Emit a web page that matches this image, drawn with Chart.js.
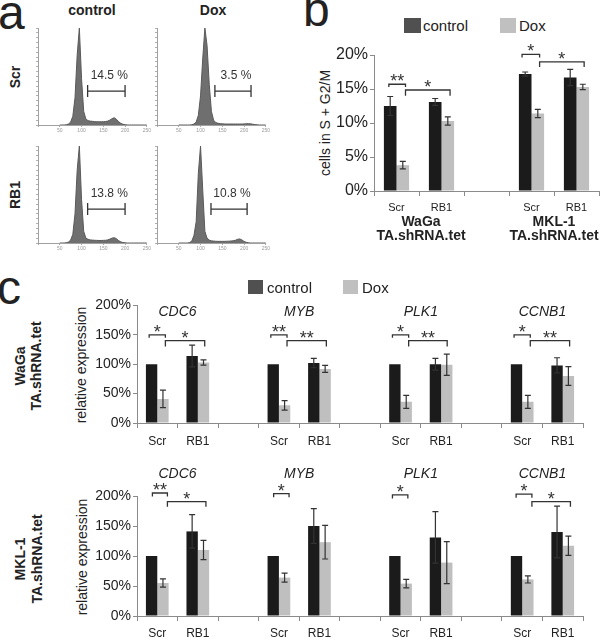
<!DOCTYPE html>
<html>
<head>
<meta charset="utf-8">
<script src="https://cdn.jsdelivr.net/npm/chart.js@4.4.1/dist/chart.umd.min.js"></script>
<style>
  body { margin: 0; background: #fff; }
  #fig { position: relative; width: 600px; height: 640px; overflow: hidden; font-family: "Liberation Sans", Arial, sans-serif; color: #222; }
  #fig canvas { position: absolute; }
  .t { position: absolute; white-space: nowrap; transform: translate(-50%, -50%); }
  .l { position: absolute; white-space: nowrap; transform: translate(0, -50%); font-size: 15px; }
  .rot { transform: translate(-50%, -50%) rotate(-90deg); }
  .b { font-weight: bold; font-size: 14px; }
  .letter { position: absolute; font-size: 48px; line-height: 48px; }
  .sw { position: absolute; }
</style>
</head>
<body>
<div id="fig">
  <div class="letter" style="left:-2px;top:-11px">a</div>
  <div class="letter" style="left:303px;top:-14px">b</div>
  <div class="letter" style="left:-3px;top:264px">c</div>

  <!-- panel a headers -->
  <div class="t b" style="left:92px;top:10px">control</div>
  <div class="t b" style="left:213px;top:10px">Dox</div>
  <div class="t b rot" style="left:15px;top:77px">Scr</div>
  <div class="t b rot" style="left:15px;top:195px">RB1</div>

  <canvas id="h1" width="122" height="112" style="left:30px;top:24px"></canvas>
  <canvas id="h2" width="122" height="112" style="left:149px;top:24px"></canvas>
  <canvas id="h3" width="122" height="112" style="left:30px;top:142px"></canvas>
  <canvas id="h4" width="122" height="112" style="left:149px;top:142px"></canvas>

  <!-- panel b -->
  <div class="sw" style="left:404px;top:18px;width:17px;height:15px;background:#505050"></div>
  <div class="l" style="left:423px;top:25px">control</div>
  <div class="sw" style="left:500px;top:18px;width:16px;height:15px;background:#c0c0c0"></div>
  <div class="l" style="left:519px;top:25px">Dox</div>
  <div class="t rot" style="left:325px;top:123px;font-size:14px">cells in S + G2/M</div>
  <canvas id="cb" width="300" height="200" style="left:300px;top:40px"></canvas>
  <div class="t b" style="left:421px;top:221px">WaGa</div>
  <div class="t b" style="left:421px;top:235px">TA.shRNA.tet</div>
  <div class="t b" style="left:554px;top:221px">MKL-1</div>
  <div class="t b" style="left:554px;top:235px">TA.shRNA.tet</div>

  <!-- panel c -->
  <div class="sw" style="left:248px;top:280px;width:15px;height:14px;background:#505050"></div>
  <div class="l" style="left:267px;top:287px">control</div>
  <div class="sw" style="left:343px;top:280px;width:15px;height:14px;background:#c0c0c0"></div>
  <div class="l" style="left:362px;top:287px">Dox</div>

  <div class="t b rot" style="left:20px;top:366px">WaGa</div>
  <div class="t b rot" style="left:35.5px;top:366px">TA.shRNA.tet</div>
  <div class="t rot" style="left:81px;top:365px;font-size:14px">relative expression</div>
  <canvas id="c1" width="515" height="160" style="left:85px;top:295px"></canvas>

  <div class="t b rot" style="left:20px;top:559px">MKL-1</div>
  <div class="t b rot" style="left:36.5px;top:559px">TA.shRNA.tet</div>
  <div class="t rot" style="left:81.5px;top:557px;font-size:14px">relative expression</div>
  <canvas id="c2" width="515" height="185" style="left:85px;top:455px"></canvas>
</div>
<script>
// ---- panel a: DNA content histograms (channels 50..250, step 5) ----
const channels = [50,55,60,65,70,75,80,85,90,95,100,105,110,115,120,125,130,135,140,145,150,155,160,165,170,175,180,185,190,195,200,205,210,215,220,225,230,235,240,245,250];
const histScrControl = [0,0,0,0.3,1,3,9,28,72,100,48,14,6,4.5,4,3.8,3.5,3.4,3.3,3.3,3.4,3.6,4,5,6.5,7.5,6,3.5,1.8,0.8,0.3,0.1,0,0,0,0,0,0,0,0,0];
const histScrDox = [0,0,0,0,0,0,0.3,1,3,10,30,68,100,82,42,14,5,2.5,1.8,1.4,1.2,1.1,1,1,1,1,1,1,1,1,1.1,1.3,1.4,1.2,0.8,0.4,0.2,0,0,0,0];
const histRb1Control = [0,0,0,0.3,1,3,9,30,75,100,45,12,5,3.8,3.2,3,2.8,2.7,2.6,2.6,2.7,2.8,3.2,4,5,5.5,4.5,2.5,1.2,0.5,0.2,0,0,0,0,0,0,0,0,0,0];
const histRb1Dox = [0,0,0,0,0,0.5,2,8,22,72,100,55,12,5,3,2.2,2,1.8,1.7,1.7,1.7,1.7,1.8,1.9,2,2.3,2.8,3.8,4.2,3.2,1.6,0.7,0.3,0,0,0,0,0,0,0,0];
const gateFrom = [114, 133, 114, 124];
const gateTo = [200, 216, 200, 207];
const gateLabels = ['14.5 %', '3.5 %', '13.8 %', '10.8 %'];

// ---- panel b: cells in S + G2/M ----
const bCats = ['Scr', 'RB1', '', 'Scr', 'RB1'];
const bControl = [12.5, 13.1, null, 17.2, 16.7];
const bControlErr = [1.4, 0.5, null, 0.3, 1.2];
const bDox = [3.8, 10.3, null, 11.4, 15.3];
const bDoxErr = [0.55, 0.6, null, 0.6, 0.4];
// [from, to (category index), bracket level, tick end level, mark]
const bBrackets = [[-0.17, 0.2, 15.7, 15.3, '**'], [0.2, 1.19, 14.85, 14.0, '*'], [2.79, 3.18, 20.1, 19.65, '*'], [3.18, 4.17, 19.0, 18.25, '*']];

// ---- panel c: relative expression ----
const cCats = ['Scr', 'RB1', '', 'Scr', 'RB1', '', 'Scr', 'RB1', '', 'Scr', 'RB1'];
const genes = ['CDC6', 'MYB', 'PLK1', 'CCNB1'];
const wagaControl = [100, 114, null, 100, 102, null, 100, 100, null, 100, 98];
const wagaControlErr = [0, 18.5, null, 0, 8, null, 0, 10, null, 0, 13];
const wagaDox = [41, 103, null, 30, 92, null, 36, 99, null, 36, 80];
const wagaDoxErr = [15, 4.5, null, 8, 6, null, 11, 18, null, 11, 16];
const mklControl = [100, 141, null, 100, 150, null, 100, 131, null, 100, 140];
const mklControlErr = [0, 28, null, 0, 29, null, 0, 43, null, 0, 43];
const mklDox = [55, 110, null, 64, 123, null, 54, 89, null, 61, 117];
const mklDoxErr = [7, 16, null, 7.5, 28, null, 7, 35, null, 6, 16];
const wagaBrackets = [
  [-0.2, 0.2, 150, 145, '*'], [0.2, 1.17, 140, 130, '*'],
  [2.8, 3.2, 150, 145, '**'], [3.2, 4.17, 140, 130, '**'],
  [5.8, 6.2, 150, 145, '*'], [6.2, 7.15, 140, 130, '**'],
  [8.8, 9.2, 150, 145, '*'], [9.2, 10.17, 140, 130, '**']
];
const mklBrackets = [
  [-0.12, 0.25, 205, 199, '**'], [0.25, 1.2, 190.5, 182, '*'],
  [2.87, 3.25, 204, 198, '*'],
  [5.8, 6.18, 202, 196, '*'],
  [8.85, 9.24, 203, 197, '*'], [9.24, 10.19, 190.5, 182, '*']
];

const FONT = '"Liberation Sans", Arial, sans-serif';
const ctrlColor = '#1b1b1b';
const doxColor = '#bfbfbf';
const axisColor = '#8a8a8a';
Chart.defaults.font.family = FONT;
Chart.defaults.color = '#222';

function gatePlugin(k) {
  return {
    id: 'gate',
    afterDraw(chart) {
      const ctx = chart.ctx, xs = chart.scales.x, ys = chart.scales.y;
      const x1 = xs.getPixelForValue(gateFrom[k]), x2 = xs.getPixelForValue(gateTo[k]);
      const y = ys.getPixelForValue(35);
      ctx.save();
      ctx.strokeStyle = '#333';
      ctx.lineWidth = 1.3;
      ctx.beginPath();
      ctx.moveTo(x1, y); ctx.lineTo(x2, y);
      ctx.moveTo(x1, y - 6); ctx.lineTo(x1, y + 6);
      ctx.moveTo(x2, y - 6); ctx.lineTo(x2, y + 6);
      ctx.stroke();
      ctx.fillStyle = '#333';
      ctx.font = '12px ' + FONT;
      ctx.textAlign = 'center';
      ctx.textBaseline = 'middle';
      ctx.fillText(gateLabels[k], (x1 + x2) / 2 + 3, ys.getPixelForValue(51));
      ctx.restore();
    }
  };
}

function histogram(id, counts, k) {
  new Chart(document.getElementById(id), {
    type: 'line',
    data: {
      datasets: [{
        data: channels.map((c, i) => ({ x: c, y: counts[i] })),
        fill: 'origin',
        backgroundColor: '#6f6f6f',
        borderColor: '#5a5a5a',
        borderWidth: 1,
        pointRadius: 0,
        tension: 0
      }]
    },
    options: {
      responsive: false, animation: false, devicePixelRatio: 1,
      layout: { padding: { top: 4, right: 4 } },
      plugins: { legend: { display: false }, tooltip: { enabled: false } },
      scales: {
        x: {
          type: 'linear', min: 0, max: 250,
          grid: { drawOnChartArea: false, tickLength: 2, color: '#a8a8a8' },
          border: { color: '#a0a0a0' },
          ticks: { stepSize: 50, font: { size: 5 }, color: '#999', padding: 1, maxRotation: 0, callback: v => v ? v : '' },
          afterFit: s => { s.height = 11; }
        },
        y: {
          min: 0, max: 100,
          grid: { drawOnChartArea: false, tickLength: 2, color: '#b0b0b0' },
          border: { color: '#a0a0a0' },
          ticks: { stepSize: 5, display: false },
          afterFit: s => { s.width = 8; }
        }
      }
    },
    plugins: [gatePlugin(k)]
  });
}

histogram('h1', histScrControl, 0);
histogram('h2', histScrDox, 1);
histogram('h3', histRb1Control, 2);
histogram('h4', histRb1Dox, 3);

// error bars from dataset.errors
const errorBars = {
  id: 'errorBars',
  afterDatasetsDraw(chart) {
    const ctx = chart.ctx, ys = chart.scales.y;
    ctx.save();
    ctx.strokeStyle = '#333';
    ctx.lineWidth = 1.2;
    chart.data.datasets.forEach((ds, i) => {
      chart.getDatasetMeta(i).data.forEach((bar, j) => {
        const v = ds.data[j], e = ds.errors[j];
        if (v == null || !e) return;
        const top = ys.getPixelForValue(v + e), bot = ys.getPixelForValue(v - e);
        ctx.beginPath();
        ctx.moveTo(bar.x, top); ctx.lineTo(bar.x, bot);
        ctx.moveTo(bar.x - 3, top); ctx.lineTo(bar.x + 3, top);
        ctx.moveTo(bar.x - 3, bot); ctx.lineTo(bar.x + 3, bot);
        ctx.stroke();
      });
    });
    ctx.restore();
  }
};

function sigPlugin(brackets, geneLevel) {
  return {
    id: 'sig',
    afterDraw(chart) {
      const ctx = chart.ctx, xs = chart.scales.x, ys = chart.scales.y;
      ctx.save();
      ctx.strokeStyle = '#333';
      ctx.fillStyle = '#333';
      ctx.lineWidth = 1.3;
      ctx.textAlign = 'center';
      brackets.forEach(([from, to, level, end, mark]) => {
        const x1 = xs.getPixelForValue(from), x2 = xs.getPixelForValue(to);
        const y1 = ys.getPixelForValue(level), y2 = ys.getPixelForValue(end);
        ctx.beginPath();
        ctx.moveTo(x1, y2); ctx.lineTo(x1, y1); ctx.lineTo(x2, y1); ctx.lineTo(x2, y2);
        ctx.stroke();
        ctx.font = '18px ' + FONT;
        ctx.textBaseline = 'alphabetic';
        ctx.fillText(mark, (x1 + x2) / 2, y1 + 3);
      });
      if (geneLevel != null) {
        ctx.fillStyle = '#222';
        ctx.font = 'italic 14px ' + FONT;
        ctx.textBaseline = 'middle';
        genes.forEach((g, k) => ctx.fillText(g, xs.getPixelForValue(k * 3 + 0.5), ys.getPixelForValue(geneLevel)));
      }
      ctx.restore();
    }
  };
}

function barChart(id, cats, ctrl, ctrlErr, dox, doxErr, opts) {
  new Chart(document.getElementById(id), {
    type: 'bar',
    data: {
      labels: cats,
      datasets: [
        { label: 'control', data: ctrl, errors: ctrlErr, backgroundColor: ctrlColor, categoryPercentage: 0.56, barPercentage: 1 },
        { label: 'Dox', data: dox, errors: doxErr, backgroundColor: doxColor, categoryPercentage: 0.56, barPercentage: 1 }
      ]
    },
    options: {
      responsive: false, animation: false, devicePixelRatio: 1,
      layout: { padding: opts.padding },
      plugins: { legend: { display: false }, tooltip: { enabled: false } },
      scales: {
        x: {
          grid: { drawOnChartArea: false, tickLength: 5, color: axisColor, offset: true },
          border: { color: axisColor },
          ticks: { font: { size: opts.xFont }, color: '#222', padding: opts.xPad, maxRotation: 0, autoSkip: false },
          afterFit: s => { s.height = opts.xHeight; }
        },
        y: {
          min: 0, max: opts.max,
          grid: { drawOnChartArea: false, tickLength: 4, color: axisColor },
          border: { color: axisColor },
          ticks: { stepSize: opts.step, font: { size: opts.yFont }, color: '#222', padding: 2, callback: v => v + '%' },
          afterFit: s => { s.width = opts.yWidth; }
        }
      }
    },
    plugins: [errorBars, sigPlugin(opts.brackets, opts.geneLevel)]
  });
}

barChart('cb', bCats, bControl, bControlErr, bDox, bDoxErr, {
  padding: { top: 15, right: 1 }, max: 20, step: 5, yFont: 16, xFont: 11, xPad: 5,
  xHeight: 49, yWidth: 74, brackets: bBrackets, geneLevel: null
});
barChart('c1', cCats, wagaControl, wagaControlErr, wagaDox, wagaDoxErr, {
  padding: { top: 9, right: 17 }, max: 200, step: 50, yFont: 14, xFont: 12, xPad: 6,
  xHeight: 32, yWidth: 52, brackets: wagaBrackets, geneLevel: 188
});
barChart('c2', cCats, mklControl, mklControlErr, mklDox, mklDoxErr, {
  padding: { top: 41, right: 17 }, max: 200, step: 50, yFont: 14, xFont: 12, xPad: 5,
  xHeight: 24, yWidth: 52, brackets: mklBrackets, geneLevel: 237
});
</script>
</body>
</html>
